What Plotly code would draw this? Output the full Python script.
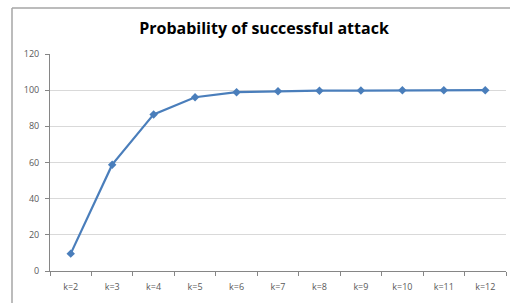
import plotly.graph_objects as go

categories = ["k=2", "k=3", "k=4", "k=5", "k=6", "k=7", "k=8", "k=9", "k=10", "k=11", "k=12"]
probability = [9.6, 58.8, 86.6, 96.1, 98.9, 99.4, 99.7, 99.8, 99.9, 99.95, 100.0]
y_ticks = [0, 20, 40, 60, 80, 100, 120]

W, H = 510, 303
ML, MR, MT, MB = 50, 4, 54, 32
pw, ph = W - ML - MR, H - MT - MB

def px_x(x):
    return (x - ML) / pw

def px_y(y):
    return (H - MB - y) / ph

fig = go.Figure()
fig.add_trace(go.Scatter(
    x=categories, y=probability, mode="lines+markers",
    line=dict(color="#4a7ebb", width=2.2),
    marker=dict(symbol="diamond", size=6.5, color="#4a7ebb"),
    showlegend=False,
))

fig.update_layout(
    width=W, height=H,
    margin=dict(l=ML, r=MR, t=MT, b=MB),
    paper_bgcolor="white", plot_bgcolor="white",
    title=dict(text="<b>Probability of successful attack</b>", x=px_x(264), xref="paper",
               xanchor="center", y=1 - 28 / H, yanchor="middle",
               font=dict(family="Open Sans, sans-serif", size=16, color="#000000")),
    xaxis=dict(
        type="category", showgrid=False, showline=True, linecolor="#868686", linewidth=1,
        ticks="outside", tickson="boundaries", ticklen=4, tickcolor="#868686",
        ticklabelstandoff=7,
        tickfont=dict(family="Open Sans, sans-serif", size=9, color="#595959"),
        range=[-0.5, len(categories) - 0.5], automargin=False,
    ),
    yaxis=dict(
        range=[0, 120], tickvals=y_ticks, showgrid=True, gridcolor="#d9d9d9", gridwidth=1,
        showline=True, linecolor="#868686", linewidth=1, zeroline=False,
        ticks="outside", ticklen=4, tickcolor="#868686", automargin=False,
        ticklabelstandoff=4,
        tickfont=dict(family="Open Sans, sans-serif", size=9, color="#595959"),
    ),
    shapes=[
        dict(type="line", xref="paper", yref="paper", x0=px_x(12), x1=px_x(512),
             y0=px_y(8), y1=px_y(8), line=dict(color="#a6a6a6", width=1.5)),
        dict(type="line", xref="paper", yref="paper", x0=px_x(12), x1=px_x(12),
             y0=px_y(8), y1=px_y(305), line=dict(color="#a6a6a6", width=1.5)),
    ],
)

fig.write_html("out.html", config={"displayModeBar": False},
               post_script="document.body.style.margin='0';document.body.style.padding='0';")
